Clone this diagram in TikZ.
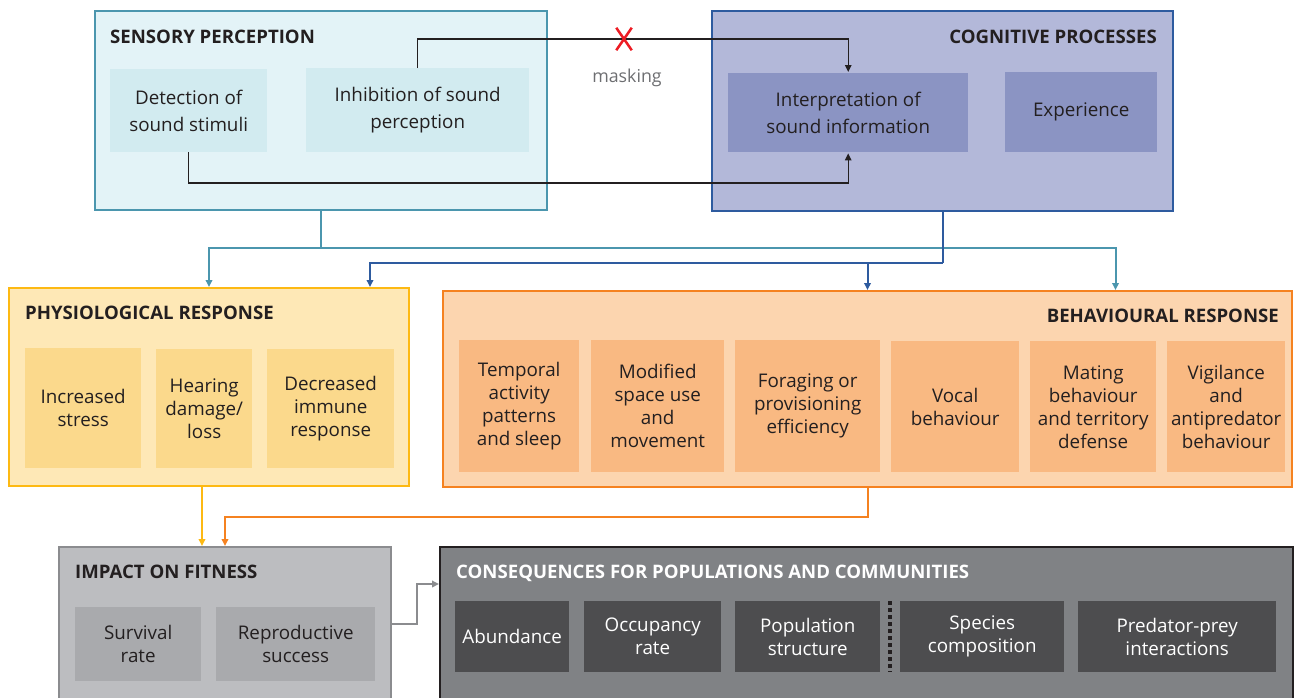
\documentclass[tikz,border=0pt]{standalone}
\usepackage{fontspec}
\setmainfont{Open Sans}
\usetikzlibrary{arrows.meta,calc,shapes.misc}

\definecolor{ink}{HTML}{231F20}
\definecolor{sensdark}{HTML}{4B96AE}
\definecolor{sensfill}{HTML}{E3F3F7}
\definecolor{sensin}{HTML}{D2EBF0}
\definecolor{cogdark}{HTML}{2E5B9F}
\definecolor{cogfill}{HTML}{B3B8D9}
\definecolor{cogin}{HTML}{8B94C3}
\definecolor{physdark}{HTML}{FDB913}
\definecolor{physfill}{HTML}{FEE8B6}
\definecolor{physin}{HTML}{FBD98C}
\definecolor{behdark}{HTML}{F58220}
\definecolor{behfill}{HTML}{FCD5AF}
\definecolor{behin}{HTML}{F9B982}
\definecolor{fitdark}{HTML}{8B8C8F}
\definecolor{fitfill}{HTML}{BCBDC0}
\definecolor{fitin}{HTML}{A9AAAD}
\definecolor{consfill}{HTML}{808285}
\definecolor{consin}{HTML}{4D4D4F}
\definecolor{xred}{HTML}{ED1C24}
\definecolor{greytext}{HTML}{6D6E71}

\tikzset{
  outer/.style = {draw, line width=2.5pt, anchor=north west, inner sep=0pt, outer sep=0pt},
  inner/.style = {anchor=north west, inner sep=0pt, align=center, text=ink,
                  font=\fontsize{18.8}{23}\selectfont},
  title/.style = {inner sep=0pt, text=ink, font=\fontsize{18.6}{21}\selectfont\bfseries},
  tip/.style = {-{Triangle[length=7pt,width=6.5pt]}, shorten >=1pt},
  maskline/.style = {ink, line width=1.3pt},
  sensline/.style = {sensdark, line width=2pt},
  cogline/.style = {cogdark, line width=2pt},
  physline/.style = {physdark, line width=2pt},
  behline/.style = {behdark, line width=2pt},
  fitline/.style = {fitdark, line width=2.5pt},
  sepline/.style = {ink, line width=3.5pt, dash pattern=on 3.5pt off 3.5pt}
}

\begin{document}
\begin{tikzpicture}[x=1pt, y=1pt]
  \useasboundingbox (0,0) rectangle (1295,-697);
  \clip (0,0) rectangle (1295,-697);

  % sensory perception
  \node[outer, draw=sensdark, fill=sensfill, minimum width=452, minimum height=199] (sens) at (95,-11) {};
  \node[title, anchor=base west] (senstitle) at (110,-43) {SENSORY PERCEPTION};
  \node[inner, fill=sensin, minimum width=157, minimum height=83,
        font=\fontsize{18.8}{27}\selectfont] (detect) at (110,-69) {Detection of\\sound stimuli};
  \node[inner, fill=sensin, minimum width=223, minimum height=84,
        font=\fontsize{18.8}{27}\selectfont] (inhib) at (306,-68) {Inhibition of sound\\perception};

  % cognitive processes
  \node[outer, draw=cogdark, fill=cogfill, minimum width=461, minimum height=200] (cog) at (712,-11) {};
  \node[title, anchor=base east] (cogtitle) at (1157,-43) {COGNITIVE PROCESSES};
  \node[inner, fill=cogin, minimum width=240, minimum height=79,
        font=\fontsize{18.8}{27}\selectfont] (interp) at (728,-73) {Interpretation of\\sound information};
  \node[inner, fill=cogin, minimum width=152, minimum height=80] (exper) at (1005,-72) {Experience};

  % masking and detection
  \coordinate (maskpt) at (624,-39);
  \coordinate (detpt) at (500,-183);
  \draw[maskline, tip] (inhib.north) |- (maskpt) -| (interp.north);
  \draw[maskline, tip] (detect.south) |- (detpt) -| (interp.south);
  \node[cross out, draw=xred, line width=2.5pt, minimum width=13, minimum height=20, inner sep=0pt] (xmark) at (maskpt) {};
  \node[inner sep=0pt, text=greytext, font=\fontsize{17.8}{21}\selectfont] (masklbl) at (627,-78) {masking};

  % physiological response
  \node[outer, draw=physdark, fill=physfill, minimum width=400, minimum height=198] (physio) at (9,-288) {};
  \node[title, anchor=base west] (phystitle) at (25,-319) {PHYSIOLOGICAL RESPONSE};
  \node[inner, fill=physin, minimum width=116, minimum height=120] (stress) at (25,-348) {Increased\\stress};
  \node[inner, fill=physin, minimum width=96, minimum height=119] (hearing) at (156,-349) {Hearing\\damage/\\loss};
  \node[inner, fill=physin, minimum width=127, minimum height=119] (immune) at (267,-349) {Decreased\\immune\\response};

  % behavioural response
  \node[outer, draw=behdark, fill=behfill, minimum width=849, minimum height=196] (behav) at (443,-291) {};
  \node[title, anchor=base east] (behtitle) at (1279,-322) {BEHAVIOURAL RESPONSE};
  \node[inner, fill=behin, minimum width=120, minimum height=132] (temporal) at (459,-340) {Temporal\\activity\\patterns\\and sleep};
  \node[inner, fill=behin, minimum width=133, minimum height=132] (space) at (591,-340) {Modified\\space use\\and\\movement};
  \node[inner, fill=behin, minimum width=145, minimum height=132] (forage) at (735,-340) {Foraging or\\provisioning\\efficiency};
  \node[inner, fill=behin, minimum width=128, minimum height=131] (vocal) at (891,-341) {Vocal\\behaviour};
  \node[inner, fill=behin, minimum width=126, minimum height=131] (mating) at (1030,-341) {Mating\\behaviour\\and territory\\defense};
  \node[inner, fill=behin, minimum width=118, minimum height=131] (vigil) at (1167,-341) {Vigilance\\and\\antipredator\\behaviour};

  % impact on fitness
  \node[outer, draw=fitdark, fill=fitfill, minimum width=332, minimum height=154] (fit) at (59,-547) {};
  \node[title, anchor=base west] (fittitle) at (75,-578) {IMPACT ON FITNESS};
  \node[inner, fill=fitin, minimum width=126, minimum height=74] (survival) at (75,-607) {Survival\\rate};
  \node[inner, fill=fitin, minimum width=159, minimum height=74] (repro) at (216,-607) {Reproductive\\success};

  % consequences
  \node[outer, draw=ink, fill=consfill, minimum width=853, minimum height=160] (cons) at (440,-547) {};
  \node[title, anchor=base west, text=white] (constitle) at (456,-578) {CONSEQUENCES FOR POPULATIONS AND COMMUNITIES};
  \node[inner, fill=consin, text=white, minimum width=114, minimum height=71] (abund) at (455,-601) {Abundance};
  \node[inner, fill=consin, text=white, minimum width=137, minimum height=71] (occup) at (584,-601) {Occupancy\\rate};
  \node[inner, fill=consin, text=white, minimum width=145, minimum height=71] (popstr) at (735,-601) {Population\\structure};
  \node[inner, fill=consin, text=white, minimum width=164, minimum height=71] (species) at (900,-601) {Species\\composition};
  \node[inner, fill=consin, text=white, minimum width=198, minimum height=71] (predprey) at (1078,-601) {Predator-prey\\interactions};
  \draw[sepline] ($(popstr.north east)!.5!(species.north west)$) -- ($(popstr.south east)!.5!(species.south west)$);

  % connectors between levels
  \draw[sensline] (sens.south) -- ++(0,-38) coordinate (sensbus);
  \draw[sensline, tip] (sensbus) -| (physio.north);
  \draw[sensline, tip] (sensbus) -| ([xshift=248]behav.north);
  \draw[cogline] (cog.south) -- ++(0,-52) coordinate (cogbus);
  \draw[cogline, tip] (cogbus) -| ([xshift=161]physio.north);
  \draw[cogline, tip] (cogbus) -| (behav.north);

  \coordinate (fitA) at ([xshift=-23]fit.north);
  \draw[physline, tip] (fitA |- physio.south) -- (fitA);
  \draw[behline, tip] (behav.south) -- ++(0,-30) -| (fit.north);
  \draw[fitline, tip] (fit.east) -- ++(26,0) |- ([yshift=-37]cons.north west);
\end{tikzpicture}
\end{document}
